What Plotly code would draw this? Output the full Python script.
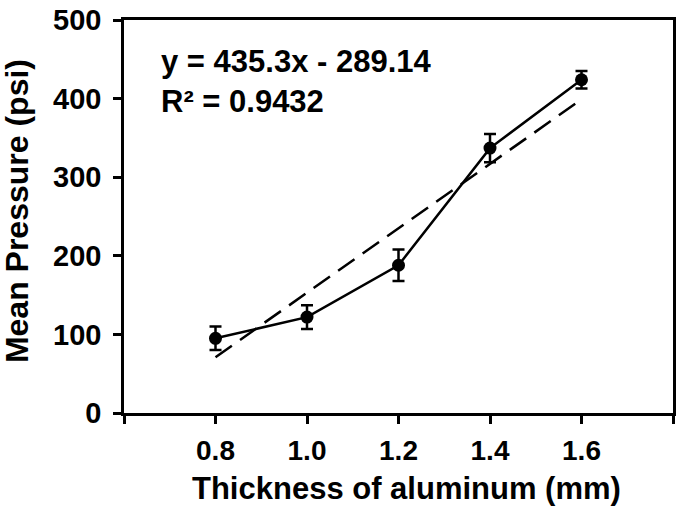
import plotly.graph_objects as go

thickness = [0.8, 1.0, 1.2, 1.4, 1.6]
mean_pressure = [95, 122, 188, 337, 424]
error = [15, 15, 20, 18, 11]

trend_x = [0.8, 1.6]
trend_y = [71, 399]

x_ticks = [0.6, 0.8, 1.0, 1.2, 1.4, 1.6, 1.8]
x_ticklabels = ["", "0.8", "1.0", "1.2", "1.4", "1.6", ""]
y_ticks = [0, 100, 200, 300, 400, 500]

equation = "y = 435.3x - 289.14"
r2 = "R² = 0.9432"

FONT = "Liberation Sans, Arial, sans-serif"

W, H = 680, 511
L, T = 124, 17
R = W - 676
B = H - 413
pw, ph = W - L - R, H - T - B


def px2paper_x(px):
    return (px - L) / pw


def px2paper_y(py):
    return (H - B - py) / ph


fig = go.Figure()
fig.add_trace(go.Scatter(
    x=trend_x, y=trend_y, mode="lines",
    line=dict(color="black", width=2.5, dash="20px,10px"),
    showlegend=False, hoverinfo="skip"))
fig.add_trace(go.Scatter(
    x=thickness, y=mean_pressure, mode="lines+markers",
    line=dict(color="black", width=2.5),
    marker=dict(color="black", size=13),
    error_y=dict(type="data", array=error, visible=True, color="black",
                 thickness=2.5, width=6),
    showlegend=False))

fig.update_layout(
    width=W, height=H,
    margin=dict(l=L, r=R, t=T, b=B),
    paper_bgcolor="white", plot_bgcolor="white",
    font=dict(family=FONT, color="black", size=28, weight="bold"),
    xaxis=dict(range=[0.6, 1.8], tickvals=x_ticks, ticktext=x_ticklabels,
               ticks="outside", ticklen=8, tickwidth=2.5, tickcolor="black",
               showline=True, linewidth=2.5, linecolor="black", mirror=True,
               showgrid=False, zeroline=False, ticklabelstandoff=3,
               ticklabeloverflow="allow",
               tickfont=dict(size=28, weight="bold")),
    yaxis=dict(range=[0, 500], tickvals=y_ticks,
               ticks="outside", ticklen=8, tickwidth=2.5, tickcolor="black",
               showline=True, linewidth=2.5, linecolor="black", mirror=True,
               showgrid=False, zeroline=False, ticklabelstandoff=6,
               ticklabeloverflow="allow",
               tickfont=dict(size=29, weight="bold")),
)

fig.add_annotation(x=px2paper_x(159), y=px2paper_y(59), xref="paper", yref="paper",
                   text=equation, showarrow=False, xanchor="left", yanchor="middle",
                   font=dict(size=31, weight="bold"))
fig.add_annotation(x=px2paper_x(159), y=px2paper_y(99), xref="paper", yref="paper",
                   text=r2, showarrow=False, xanchor="left", yanchor="middle",
                   font=dict(size=31, weight="bold"))
fig.add_annotation(x=px2paper_x(408), y=px2paper_y(489), xref="paper", yref="paper",
                   text="Thickness of aluminum (mm)", showarrow=False,
                   xanchor="center", yanchor="middle",
                   font=dict(size=31, weight="bold"))
fig.add_annotation(x=px2paper_x(16), y=px2paper_y(210), xref="paper", yref="paper",
                   text="Mean Pressure (psi)", showarrow=False, textangle=-90,
                   xanchor="center", yanchor="middle",
                   font=dict(size=32, weight="bold"))

fig.write_html("out.html",
               config={"displayModeBar": False},
               post_script="document.body.style.margin='0';document.body.style.overflow='hidden';")
